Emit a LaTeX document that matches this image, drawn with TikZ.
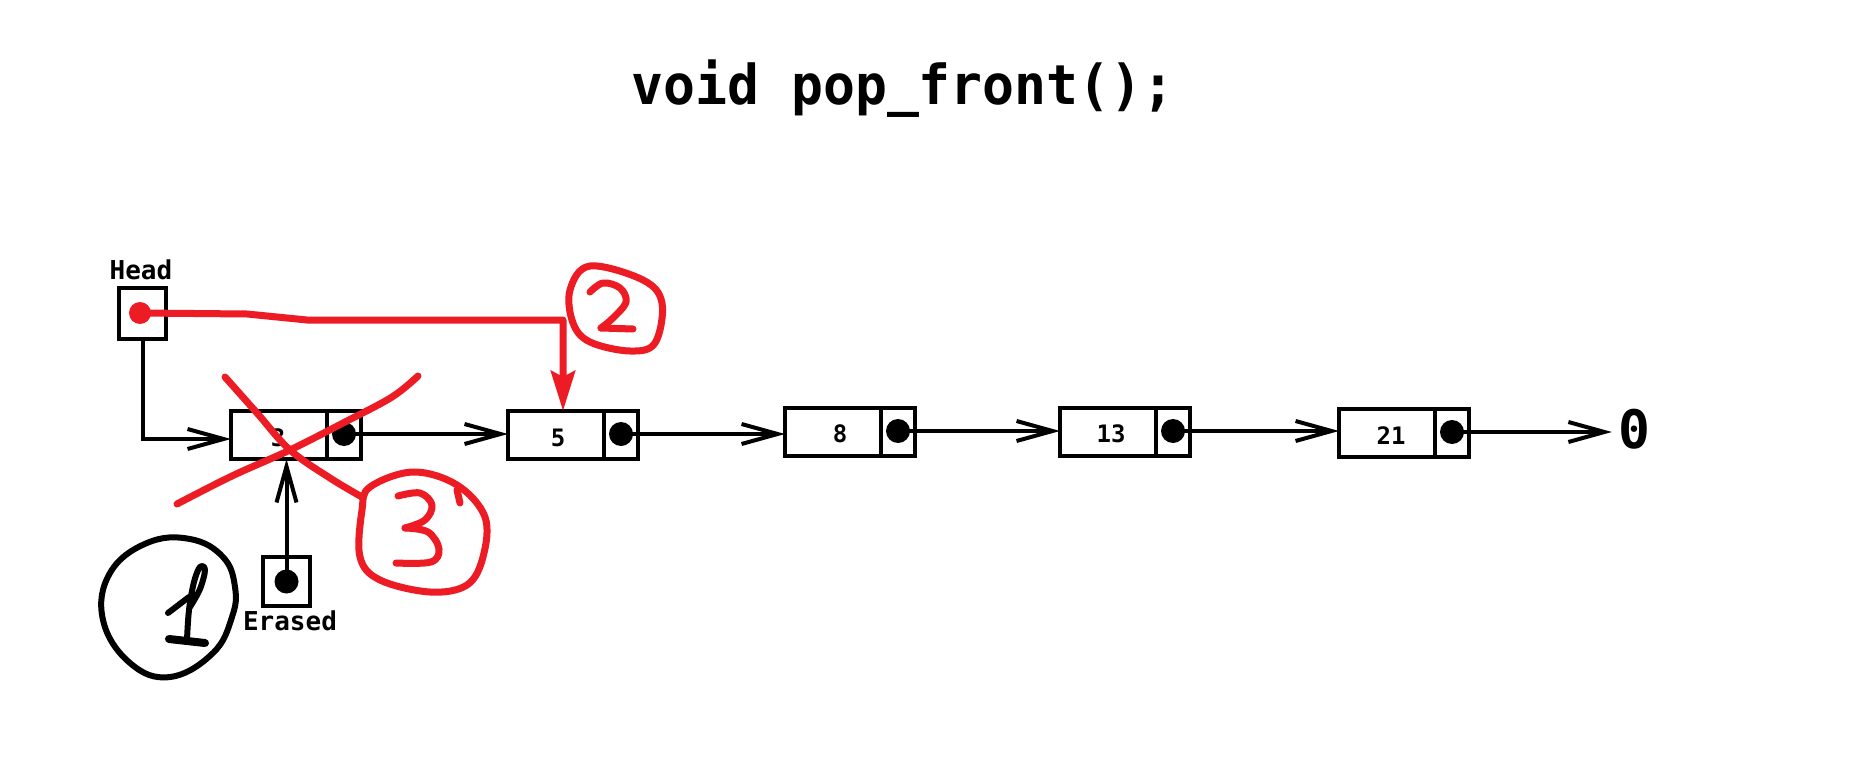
\documentclass[tikz,border=0pt]{standalone}
\usepackage{fontspec}
\usepackage{graphicx}
\setmonofont{DejaVu Sans Mono}
\usetikzlibrary{arrows.meta}
\definecolor{penred}{RGB}{237,28,36}
\begin{document}
\begin{tikzpicture}[x=1pt,y=-1pt,
  box/.style={draw, line width=4.5pt, inner sep=0pt, outer sep=0pt, minimum height=48pt},
  valbox/.style={box, minimum width=96pt, anchor=north west},
  ptrbox/.style={box, minimum width=34pt, anchor=north west},
  dotnode/.style={circle, fill, inner sep=0pt, minimum size=24pt},
  link/.style={line width=4pt, -{Straight Barb[length=36pt,width=20pt,line width=4pt]}},
  num/.style={font=\ttfamily\bfseries\fontsize{24}{24}\selectfont, inner sep=0pt},
  lbl/.style={font=\ttfamily\bfseries\fontsize{26}{26}\selectfont, inner sep=0pt, anchor=base},
  hand/.style={line width=6pt, line cap=round, line join=round},
  redhand/.style={hand, draw=penred, line width=7pt},
]
\fill[white] (0,0) rectangle (1876,778);
\useasboundingbox (0,0) rectangle (1876,778);

% title
\node[font=\ttfamily\bfseries\fontsize{55}{60}\selectfont, anchor=base, inner sep=0pt]
  (title) at (903,105) {\scalebox{0.965}[1]{void pop\_front();}};

% list elements: value cell + pointer cell
\node[valbox] (v3)  at (231,411) {};
\node[ptrbox] (p3)  at (v3.north east) {};
\node[valbox] (v5)  at (508,411) {};
\node[ptrbox] (p5)  at (v5.north east) {};
\node[valbox] (v8)  at (785,408) {};
\node[ptrbox] (p8)  at (v8.north east) {};
\node[valbox] (v13) at (1060,408) {};
\node[ptrbox] (p13) at (v13.north east) {};
\node[valbox] (v21) at (1339,409) {};
\node[ptrbox] (p21) at (v21.north east) {};

\node[num] (t3)  at (278,438) {3};
\node[num] (t5)  at (558,438) {5};
\node[num] (t8)  at (840,434) {8};
\node[num] (t13) at (1111,434) {13};
\node[num] (t21) at (1391,436) {21};

\node[dotnode] (d3)  at ([yshift=1pt]p3.center) {};
\node[dotnode] (d5)  at ([yshift=1pt]p5.center) {};
\node[dotnode] (d8)  at ([yshift=1pt]p8.center) {};
\node[dotnode] (d13) at ([yshift=1pt]p13.center) {};
\node[dotnode] (d21) at ([yshift=1pt]p21.center) {};

\node[font=\ttfamily\bfseries\fontsize{53}{53}\selectfont, inner sep=0pt] (zero) at (1634,429) {0};
\coordinate (zend) at ([xshift=-6pt]zero.west);

% Head and Erased pointers
\node[lbl] (headlbl) at (141,279) {Head};
\node[box, minimum width=47pt, minimum height=51pt] (head) at (142.5,313.5) {};
\node[box, minimum width=47pt, minimum height=49pt] (ers) at (286.5,581.5) {};
\node[dotnode] (ersdot) at (ers.center) {};
\node[lbl] (erlbl) at (290,630) {Erased};

% next links
\draw[link] (head.south) |- ([yshift=-4pt]v3.west);
\draw[link] (d3.center)  -- (d3.center -| v5.west);
\draw[link] (d5.center)  -- (d5.center -| v8.west);
\draw[link] (d8.center)  -- (d8.center -| v13.west);
\draw[link] (d13.center) -- (d13.center -| v21.west);
\draw[link] (d21.center) -- (d21.center -| zend);
\draw[link] (ersdot.center) -- (ersdot.center |- v3.south);

% step 1
\draw[hand] plot[smooth cycle, tension=0.7] coordinates
  {(190,539) (223,557) (235,587) (232,617) (213,653) (170,677) (130,663) (103,620) (110,573) (147,543)};
\draw[hand] (168,613) -- (189,597);
\draw[hand] plot[smooth, tension=0.6] coordinates
  {(187,640) (189,610) (194,582) (200,567) (205,570) (200,589) (190,607)};
\draw[hand, line width=8pt] (169,639) -- (205,643);

% step 2: head moves to the second element
\node[dotnode, fill=penred, minimum size=22pt] (hdot) at (140,313) {};
\draw[redhand, -{Stealth[length=40pt,width=24pt,inset=6pt]}]
  (hdot.center) -- (247,314) -- (307,320) -- (563,320) -- (563,411);
\draw[redhand] plot[smooth cycle, tension=0.6] coordinates
  {(570,290) (590,266) (643,280) (662,303) (655,343) (630,351) (590,342) (573,323)};
\draw[redhand] plot[smooth, tension=0.6] coordinates
  {(590,292) (603,283) (620,288) (626,302) (613,318) (601,328)};
\draw[redhand] (601,328) -- (633,329);

% step 3: the old first element is deleted
\draw[redhand] plot[smooth, tension=0.6] coordinates
  {(225,377) (257,413) (290,450) (330,478) (362,497)};
\draw[redhand] plot[smooth, tension=0.6] coordinates
  {(177,504) (232,476) (290,450) (345,422) (392,397) (418,376)};
\draw[redhand] plot[smooth cycle, tension=0.6] coordinates
  {(370,487) (413,472) (457,485) (485,517) (483,557) (467,585) (430,592) (380,580) (360,557) (362,510)};
\draw[redhand] (457,490) -- (460,503);
\draw[redhand] plot[smooth, tension=0.6] coordinates
  {(398,496) (420,493) (432,505) (425,520) (405,528)};
\draw[redhand] plot[smooth, tension=0.6] coordinates
  {(405,528) (428,532) (439,549) (431,562) (396,563)};
\end{tikzpicture}
\end{document}
